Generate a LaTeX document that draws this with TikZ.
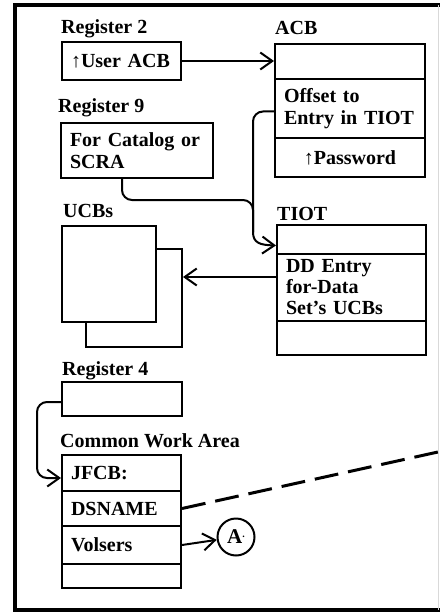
\documentclass[tikz,border=0pt]{standalone}
\usepackage{fontspec}
\setmainfont{Liberation Serif}
\usetikzlibrary{arrows.meta,calc}
\begin{document}
\begin{tikzpicture}[x=1pt,y=-1pt,
  every node/.style={font=\fontsize{20}{22}\selectfont\bfseries},
  lbl/.style={anchor=base west, inner sep=0pt},
  cell/.style={draw, line width=2pt, anchor=north west, inner xsep=9pt, inner ysep=0pt, align=left, fill=white},
  arr/.style={line width=2pt, -{Straight Barb[length=12pt,width=17pt,line width=2pt]}},
  link/.style={line width=2pt, rounded corners=10pt},
  cutline/.style={line width=3pt, dash pattern=on 24pt off 10pt}]
\useasboundingbox (0,0) rectangle (439,615);

% outer frame
\draw[line width=4pt] (445,5) -- (15,5) -- (15,610) -- (445,610);
\draw[line width=1pt, black!15] (438,5) -- (438,610);

% Register 2
\node[lbl] (l2) at (61,34) {Register 2};
\node[cell, minimum width=119pt, minimum height=38pt, text width=101pt] (r2) at (61,41) {↑User ACB};

% ACB
\node[lbl] (lacb) at (275,35) {ACB};
\node[cell, minimum width=150pt, minimum height=35pt, text width=132pt] (acb1) at (274,43) {};
\node[cell, minimum width=150pt, minimum height=59pt, text width=132pt] (acb2) at (274,78) {Offset to\\Entry in TIOT};
\node[cell, minimum width=150pt, minimum height=39pt, text width=132pt, align=center] (acb3) at (274,137) {↑Password};

% Register 9
\node[lbl] (l9) at (58,113) {Register 9};
\node[cell, minimum width=152pt, minimum height=55pt, text width=134pt] (r9) at (60,122) {For Catalog or\\SCRA};

% UCBs
\node[lbl] (lucb) at (63,217) {UCBs};
\node[cell, minimum width=96pt, minimum height=98pt, text width=78pt] (ucbb) at (85,248) {};
\node[cell, minimum width=94pt, minimum height=96pt, text width=76pt] (ucbf) at (61,225) {};

% TIOT
\node[lbl] (ltiot) at (277,220) {TIOT};
\node[cell, minimum width=149pt, minimum height=29pt, text width=131pt] (tiot1) at (276,224) {};
\node[cell, minimum width=149pt, minimum height=67pt, text width=131pt, font=\fontsize{20}{21}\selectfont\bfseries] (tiot2) at (276,253) {DD Entry\\for-Data\\Set’s UCBs};
\node[cell, minimum width=149pt, minimum height=34pt, text width=131pt] (tiot3) at (276,320) {};

% Register 4
\node[lbl] (l4) at (62,375) {Register 4};
\node[cell, minimum width=120pt, minimum height=34pt, text width=102pt] (r4) at (61,381) {};

% Common Work Area
\node[lbl] (lcwa) at (60,447) {Common Work Area};
\node[cell, minimum width=119pt, minimum height=36pt, text width=101pt] (cwa1) at (61,454) {JFCB:};
\node[cell, minimum width=119pt, minimum height=35pt, text width=101pt] (cwa2) at (61,490) {DSNAME};
\node[cell, minimum width=119pt, minimum height=38pt, text width=101pt] (cwa3) at (61,525) {Volsers};
\node[cell, minimum width=119pt, minimum height=24pt, text width=101pt] (cwa4) at (61,563) {};

% off-page connector
\node[draw, circle, line width=2pt, minimum size=37pt, inner sep=0pt, font=\fontsize{21}{21}\selectfont\bfseries] (A) at (236,537) {A\raisebox{0.3em}{\fontsize{10}{10}\selectfont.}};

% connectors
\draw[arr] (r2.east) -- (r2.east -| acb1.west);
\coordinate (jn) at (253,232);
\draw[link] ([yshift=-3pt]acb2.west) -| (jn);
\draw[link] ($(r9.south west)+(62,0)$) |- (253,200) -- (jn);
\draw[arr] (jn) .. controls (253,243) and (260,245) .. ([yshift=-6pt]tiot1.west);
\draw[arr] ([yshift=-24pt]tiot2.north west) -- ([yshift=-24pt]tiot2.north west -| ucbb.east);
\draw[arr, rounded corners=10pt] ([yshift=-21pt]r4.north west) -- ++(-24,0) |- ([yshift=-24pt]cwa1.north west);
\coordinate (far) at (447,450);
\draw[cutline] (cwa2.east) -- (far);
\draw[arr] (cwa3.east) -- (A);
\end{tikzpicture}
\end{document}
